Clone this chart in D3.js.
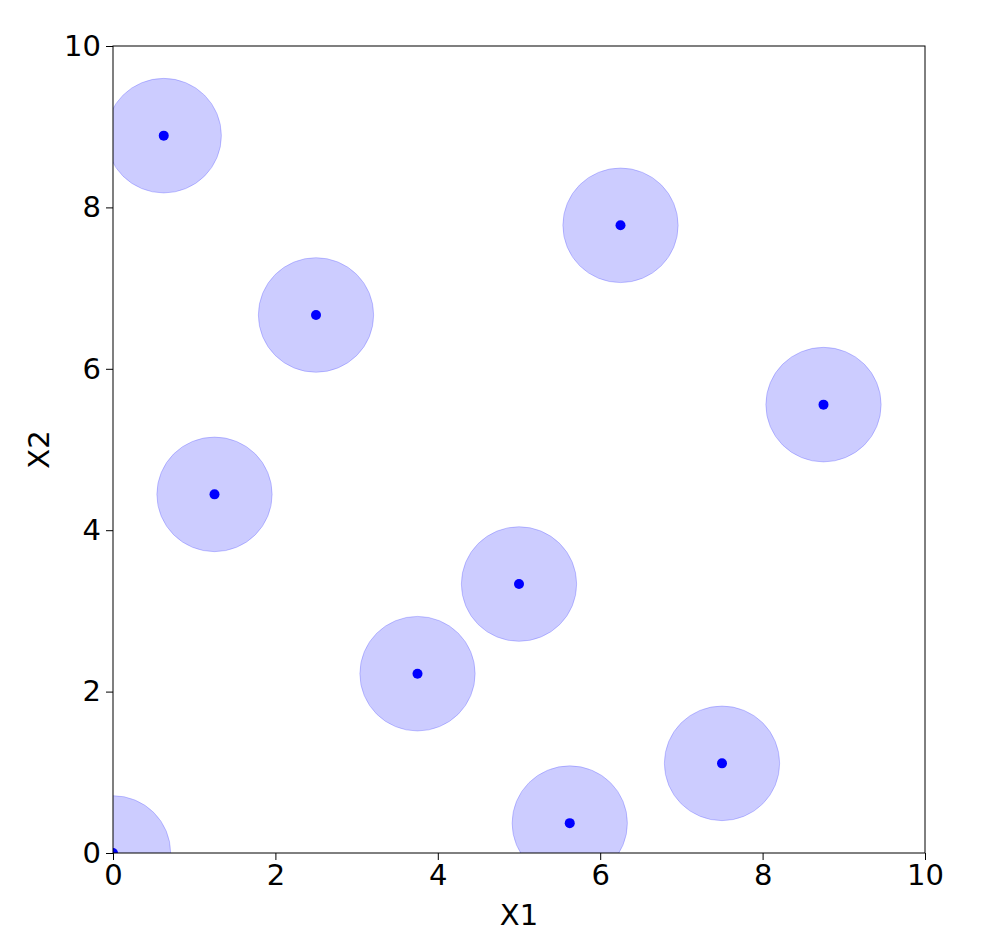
<!DOCTYPE html><html><head><script src="https://d3js.org/d3.v7.min.js"></script>
<style>body{margin:0;background:#fff}text{font-family:"DejaVu Sans",sans-serif}</style></head><body><script>
const xVals=[0,5,2.5,7.5,1.25,6.25,3.75,8.75,0.625,5.625];
const yVals=[0,3.333,6.667,1.111,4.444,7.778,2.222,5.556,8.889,0.370];
const radius=0.71;
const ticks=[0,2,4,6,8,10];
const W=990,H=944,m={l:113,r:65,t:46,b:91};
const svg=d3.select("body").append("svg").attr("width",W).attr("height",H);
const x=d3.scaleLinear().domain([0,10]).range([m.l,W-m.r]);
const y=d3.scaleLinear().domain([0,10]).range([H-m.b,m.t]);
svg.append("clipPath").attr("id","c").append("rect").attr("x",m.l).attr("y",m.t).attr("width",W-m.r-m.l).attr("height",H-m.b-m.t);
const g=svg.append("g").attr("clip-path","url(#c)");
const pts=xVals.map((v,i)=>[v,yVals[i]]);
g.selectAll("ellipse").data(pts).join("ellipse").attr("cx",d=>x(d[0])).attr("cy",d=>y(d[1]))
 .attr("rx",x(radius)-x(0)).attr("ry",y(0)-y(radius)).attr("fill","rgba(0,0,255,0.2)").attr("stroke","rgba(0,0,255,0.2)");
g.selectAll("circle").data(pts).join("circle").attr("cx",d=>x(d[0])).attr("cy",d=>y(d[1])).attr("r",5).attr("fill","#0000ff");
svg.append("rect").attr("x",m.l).attr("y",m.t).attr("width",W-m.r-m.l).attr("height",H-m.b-m.t).attr("fill","none").attr("stroke","#000");
const ax=svg.append("g").attr("transform",`translate(0,${H-m.b})`).call(d3.axisBottom(x).tickValues(ticks).tickSize(7).tickPadding(4));
const ay=svg.append("g").attr("transform",`translate(${m.l},0)`).call(d3.axisLeft(y).tickValues(ticks).tickSize(7).tickPadding(5));
[ax,ay].forEach(a=>{a.select(".domain").remove();a.selectAll("line").attr("stroke","#000");a.selectAll("text").attr("font-size",29).attr("fill","#000").style("font-family","DejaVu Sans");});
svg.append("text").attr("x",(m.l+W-m.r)/2).attr("y",925).attr("text-anchor","middle").attr("font-size",29).text("X1");
svg.append("text").attr("transform",`translate(49,${(m.t+H-m.b)/2}) rotate(-90)`).attr("text-anchor","middle").attr("font-size",29).text("X2");
</script></body></html>
